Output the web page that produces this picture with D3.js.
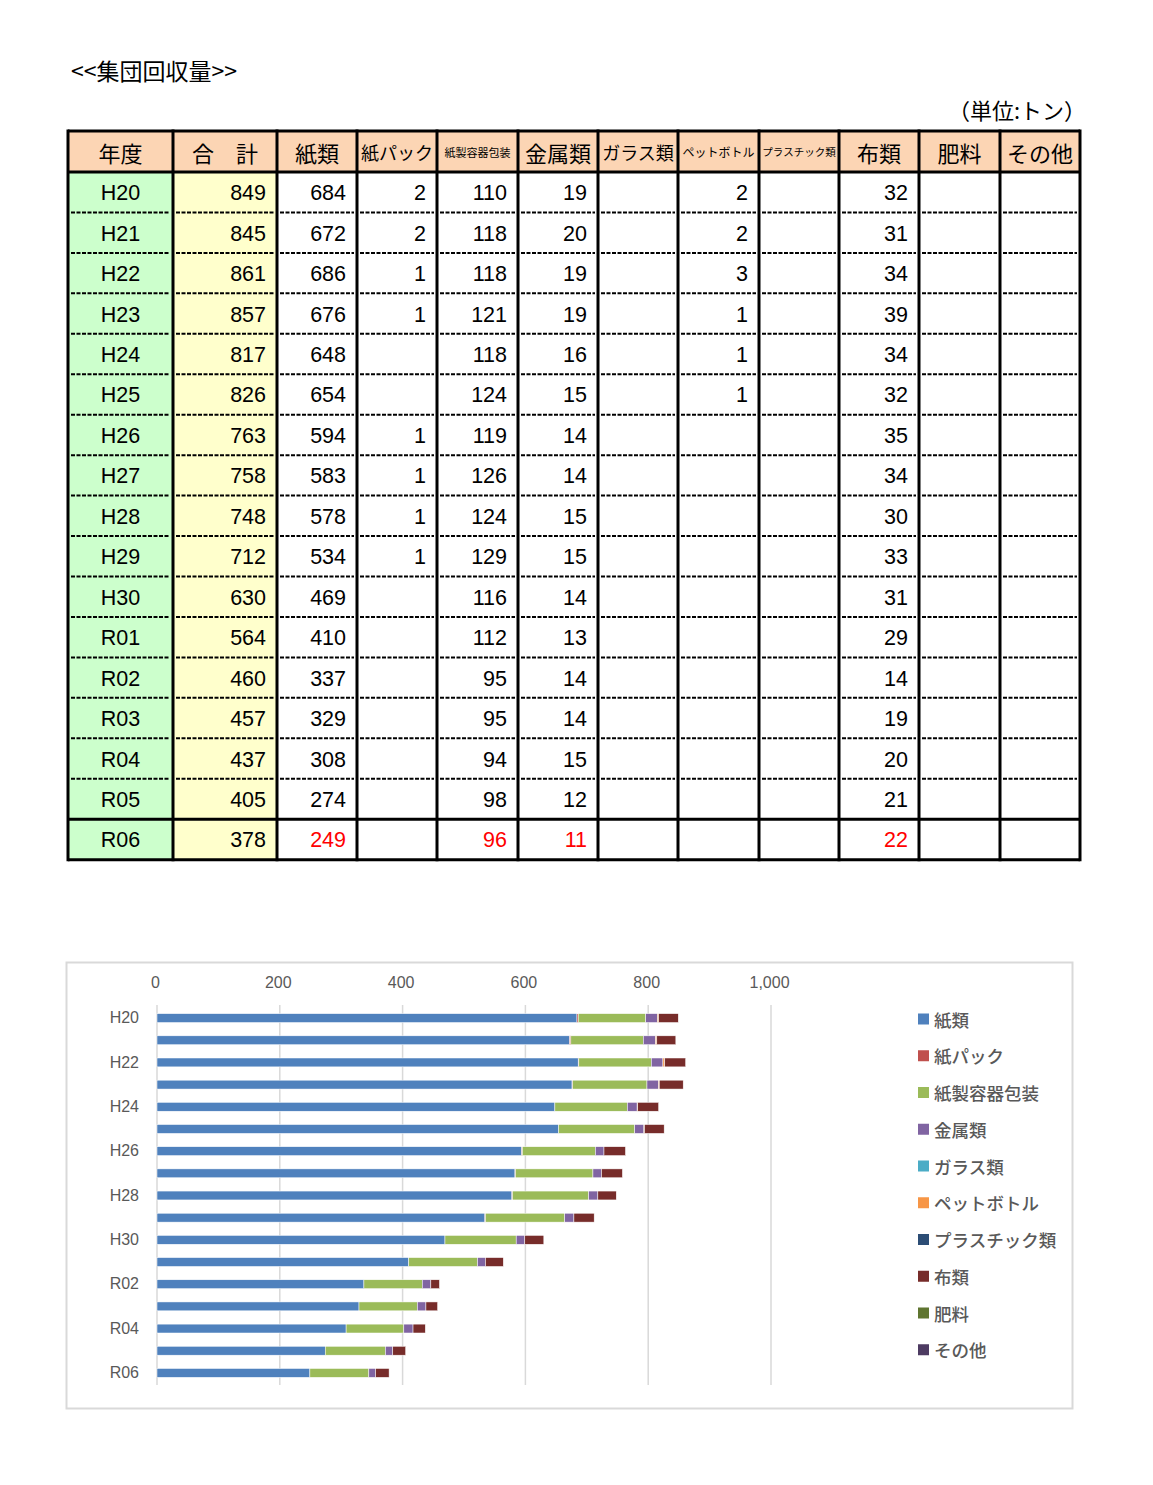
<!DOCTYPE html>
<html><head><meta charset="utf-8">
<script src="https://cdn.jsdelivr.net/npm/d3@7/dist/d3.min.js"></script>
<style>
html,body{margin:0;padding:0;background:#fff;}
svg{display:block;}
</style></head>
<body>
<svg id="root" width="1153" height="1485"></svg>
<script>
// ---------- data ----------
const years = ["H20","H21","H22","H23","H24","H25","H26","H27","H28","H29","H30","R01","R02","R03","R04","R05","R06"];
const totals = [849,845,861,857,817,826,763,758,748,712,630,564,460,457,437,405,378];
const paper = [684,672,686,676,648,654,594,583,578,534,469,410,337,329,308,274,249];
const paperPack = [2,2,1,1,null,null,1,1,1,1,null,null,null,null,null,null,null];
const paperContainer = [110,118,118,121,118,124,119,126,124,129,116,112,95,95,94,98,96];
const metal = [19,20,19,19,16,15,14,14,15,15,14,13,14,14,15,12,11];
const glass = [null,null,null,null,null,null,null,null,null,null,null,null,null,null,null,null,null];
const petBottle = [2,2,3,1,1,1,null,null,null,null,null,null,null,null,null,null,null];
const plastic = [null,null,null,null,null,null,null,null,null,null,null,null,null,null,null,null,null];
const cloth = [32,31,34,39,34,32,35,34,30,33,31,29,14,19,20,21,22];
const fertilizer = [null,null,null,null,null,null,null,null,null,null,null,null,null,null,null,null,null];
const others = [null,null,null,null,null,null,null,null,null,null,null,null,null,null,null,null,null];

const seriesNames = ["紙類","紙パック","紙製容器包装","金属類","ガラス類","ペットボトル","プラスチック類","布類","肥料","その他"];
const seriesValues = [paper,paperPack,paperContainer,metal,glass,petBottle,plastic,cloth,fertilizer,others];
const seriesColors = ["#4F81BD","#C0504D","#9BBB59","#8064A2","#4BACC6","#F79646","#2C4D75","#772C2A","#5F7530","#4D3B62"];
const headerLabels = ["年度","合　計","紙類","紙パック","紙製容器包装","金属類","ガラス類","ペットボトル","プラスチック類","布類","肥料","その他"];
const headerSizes = [22,22,22,18,11,22,18,12,10.5,22,22,22];
const xTicks = [0,200,400,600,800,1000];

// ---------- page ----------
const svg = d3.select("#root");
const jp = "'Noto Sans CJK JP','Noto Sans',sans-serif";
const num = "'Liberation Sans','Noto Sans CJK JP',sans-serif";

svg.append("text").attr("x",71).attr("y",80).attr("font-family",jp).attr("font-size",23)
  .attr("fill","#000").text("<<集団回収量>>");
svg.append("text").attr("x",1086).attr("y",119).attr("text-anchor","end").attr("font-family",jp)
  .attr("font-size",22).attr("fill","#000").text("（単位:トン）");

// ---------- table ----------
const colEdges = [68,173,277,357,437,518,598,678,759,839,919,1000,1080];
const headTop = 131, headBottom = 172;
const rowScale = d3.scaleBand().domain(years).range([headBottom, headBottom + 40.45*years.length]);
const tableBottom = rowScale.range()[1];
const tbl = svg.append("g");

// fills
tbl.append("rect").attr("x",colEdges[0]).attr("y",headTop).attr("width",colEdges[12]-colEdges[0])
  .attr("height",headBottom-headTop).attr("fill","#FCD5B4");
tbl.append("rect").attr("x",colEdges[0]).attr("y",headBottom).attr("width",colEdges[1]-colEdges[0])
  .attr("height",tableBottom-headBottom).attr("fill","#CCFFCC");
tbl.append("rect").attr("x",colEdges[1]).attr("y",headBottom).attr("width",colEdges[2]-colEdges[1])
  .attr("height",tableBottom-headBottom).attr("fill","#FFFFCC");

// header text
headerLabels.forEach((h,i)=>{
  tbl.append("text").attr("x",(colEdges[i]+colEdges[i+1])/2).attr("y",(headTop+headBottom)/2)
    .attr("text-anchor","middle").attr("dominant-baseline","central")
    .attr("font-family",jp).attr("font-size",headerSizes[i]).attr("fill","#000").text(h);
});

// cells
const columns = [totals].concat(seriesValues);
years.forEach((y,r)=>{
  const cy = rowScale(y) + rowScale.bandwidth()/2 + 1;
  const last = r === years.length-1;
  tbl.append("text").attr("x",(colEdges[0]+colEdges[1])/2).attr("y",cy)
    .attr("text-anchor","middle").attr("dominant-baseline","central")
    .attr("font-family",num).attr("font-size",21.5).attr("fill","#000").text(y);
  columns.forEach((col,c)=>{
    const v = col[r];
    if (v == null) return;
    tbl.append("text").attr("x",colEdges[c+2]-11).attr("y",cy)
      .attr("text-anchor","end").attr("dominant-baseline","central")
      .attr("font-family",num).attr("font-size",21.5)
      .attr("fill", (last && c>0) ? "#FF0000" : "#000").text(v);
  });
});

// dotted row lines
years.slice(0,-2).forEach((y)=>{
  const yy = rowScale(y)+rowScale.bandwidth();
  for (let c=0;c<12;c++){
    tbl.append("line").attr("x1",colEdges[c]+3).attr("x2",colEdges[c+1]-3).attr("y1",yy).attr("y2",yy)
      .attr("stroke","#000").attr("stroke-width",2).attr("stroke-dasharray","4 1.5");
  }
});
// thick lines
const thick = (x1,y1,x2,y2)=>tbl.append("line").attr("x1",x1).attr("y1",y1).attr("x2",x2).attr("y2",y2)
  .attr("stroke","#000").attr("stroke-width",3);
colEdges.forEach(x=>thick(x,headTop-1.5,x,tableBottom+1.5));
thick(colEdges[0],headTop,colEdges[12],headTop);
thick(colEdges[0],headBottom,colEdges[12],headBottom);
thick(colEdges[0],rowScale("R06"),colEdges[12],rowScale("R06"));
thick(colEdges[0],tableBottom,colEdges[12],tableBottom);

// ---------- chart ----------
const ch = svg.append("g");
ch.append("rect").attr("x",66.5).attr("y",962.5).attr("width",1006).attr("height",446)
  .attr("fill","#fff").attr("stroke","#D9D9D9").attr("stroke-width",2);

const x = d3.scaleLinear().domain([0,1000]).range([157,771]);
const y = d3.scaleBand().domain(years).range([1007,1384]).paddingInner(0.6).paddingOuter(0.3);
const cfont = "'Liberation Sans','Noto Sans CJK JP',sans-serif";

// gridlines
ch.append("g").selectAll("line").data(xTicks).join("line")
  .attr("x1",d=>x(d)).attr("x2",d=>x(d)).attr("y1",1005).attr("y2",1385)
  .attr("stroke","#D9D9D9").attr("stroke-width",1.5);

// top axis
const xAxis = d3.axisTop(x).tickValues(xTicks).tickFormat(d3.format(",")).tickSize(0).tickPadding(0);
const xa = ch.append("g").attr("transform","translate(-2,988)").call(xAxis);
xa.select(".domain").remove();
xa.selectAll("text").attr("font-family",cfont).attr("font-size",16).attr("fill","#595959");

// left axis
const yAxis = d3.axisLeft(y).tickValues(years.filter((d,i)=>i%2===0)).tickSize(0).tickPadding(0);
const ya = ch.append("g").attr("transform","translate(139,0)").call(yAxis);
ya.select(".domain").remove();
ya.selectAll("text").attr("font-family",cfont).attr("font-size",16).attr("fill","#595959");

// stacked bars
const tableRows = years.map((yr,i)=>{
  const o = {year:yr};
  seriesNames.forEach((s,k)=>{ o[s] = seriesValues[k][i] || 0; });
  return o;
});
const stacked = d3.stack().keys(seriesNames)(tableRows);
const color = d3.scaleOrdinal().domain(seriesNames).range(seriesColors);
ch.append("g").selectAll("g").data(stacked).join("g").attr("fill",d=>color(d.key))
  .selectAll("rect").data(d=>d.filter(p=>p[1]-p[0]>0)).join("rect")
  .attr("x",d=>x(d[0])).attr("width",d=>x(d[1])-x(d[0]))
  .attr("y",d=>y(d.data.year)).attr("height",y.bandwidth())
  .attr("stroke","#ffffff").attr("stroke-width",0.5);

// legend
const lg = ch.append("g");
seriesNames.forEach((s,i)=>{
  const cy = 1019 + i*36.75;
  lg.append("rect").attr("x",918).attr("y",cy-5.5).attr("width",11).attr("height",11).attr("fill",color(s));
  lg.append("text").attr("x",934).attr("y",cy).attr("dominant-baseline","central")
    .attr("font-family",jp).attr("font-size",17.5).attr("font-weight",500).attr("fill","#595959").text(s);
});
</script>
</body></html>
